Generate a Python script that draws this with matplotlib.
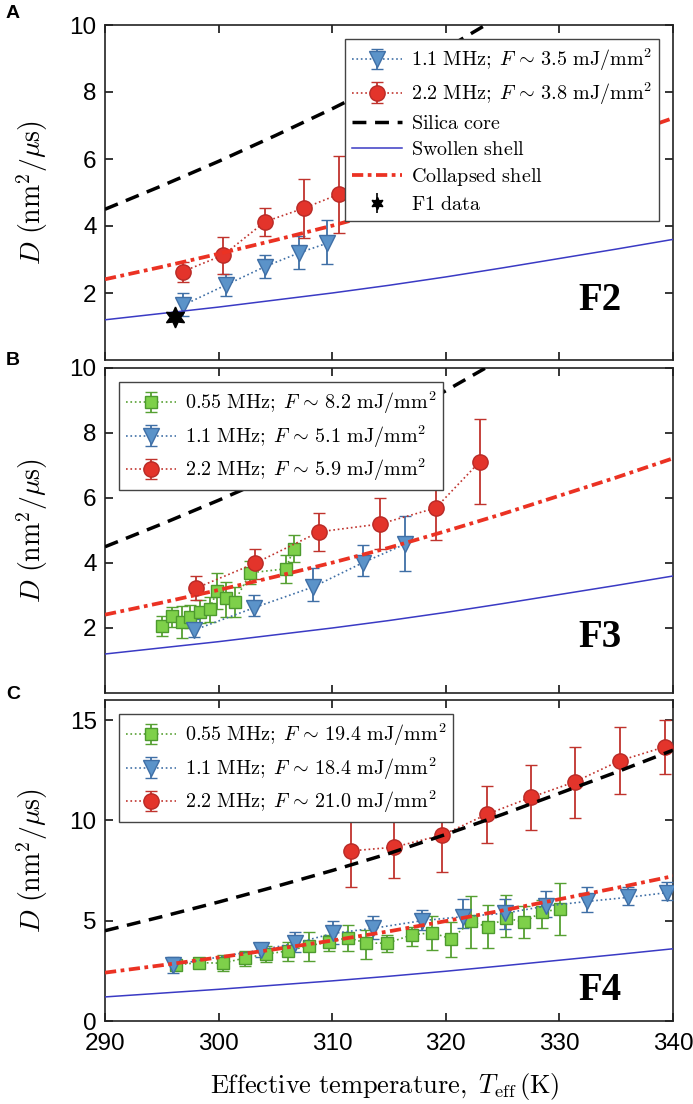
import matplotlib
matplotlib.use('Agg')
import matplotlib.pyplot as plt

plt.rcParams['font.family'] = ['Liberation Sans', 'DejaVu Sans']
plt.rcParams['mathtext.fontset'] = 'cm'

# model curves, every 5 K
t_model = [290, 295, 300, 305, 310, 315, 320, 325, 330, 335, 340]
d_silica = [4.5, 5.2, 5.93, 6.7, 7.5, 8.35, 9.3, 10.3, 11.35, 12.4, 13.5]
d_swollen = [1.2, 1.39, 1.58, 1.79, 2.0, 2.23, 2.48, 2.75, 3.03, 3.31, 3.6]
d_collapsed = [2.41, 2.78, 3.17, 3.58, 4.01, 4.47, 4.98, 5.51, 6.07, 6.63, 7.22]

# panel A (F2)
a_blue_t = [296.9, 300.65, 304.1, 307.1, 309.5]
a_blue_d = [1.64, 2.24, 2.79, 3.2, 3.48]
a_blue_lo = [1.3, 1.92, 2.44, 2.71, 2.87]
a_blue_hi = [2.01, 2.57, 3.13, 3.7, 4.18]
a_red_t = [296.84, 300.4, 304.1, 307.5, 310.6]
a_red_d = [2.64, 3.13, 4.13, 4.53, 4.95]
a_red_lo = [2.34, 2.57, 3.7, 3.65, 3.78]
a_red_hi = [2.92, 3.68, 4.53, 5.4, 6.1]
f1_t = [296.15]
f1_d = [1.29]
f1_lo = [1.15]
f1_hi = [1.43]

# panel B (F3)
b_green_t = [295.0, 295.9, 296.75, 297.5, 298.4, 299.2, 299.9, 300.65, 301.4, 302.8, 305.9, 306.6]
b_green_d = [2.07, 2.38, 2.19, 2.35, 2.5, 2.6, 3.15, 2.91, 2.81, 3.7, 3.82, 4.42]
b_green_lo = [1.75, 2.04, 1.7, 2.0, 2.15, 2.19, 2.6, 2.35, 2.33, 3.35, 3.38, 4.04]
b_green_hi = [2.37, 2.66, 2.68, 2.7, 2.85, 2.96, 3.7, 3.43, 3.26, 4.05, 4.25, 4.85]
b_blue_t = [297.8, 303.1, 308.3, 312.7, 316.4]
b_blue_d = [1.93, 2.62, 3.26, 4.01, 4.58]
b_blue_lo = [1.71, 2.38, 2.84, 3.61, 3.76]
b_blue_hi = [2.27, 3.02, 3.84, 4.55, 5.45]
b_red_t = [297.98, 303.2, 308.87, 314.2, 319.1, 323.0]
b_red_d = [3.22, 3.99, 4.96, 5.2, 5.69, 7.12]
b_red_lo = [2.86, 3.5, 4.38, 4.42, 4.71, 5.82]
b_red_hi = [3.61, 4.42, 5.55, 5.99, 6.68, 8.42]

# panel C (F4)
c_green_t = [296.25, 298.3, 300.35, 302.3, 304.2, 306.1, 308.0, 309.7, 311.4, 313.0,
             314.85, 317.0, 318.8, 320.5, 322.2, 323.7, 325.3, 326.9, 328.5, 330.05]
c_green_d = [2.8, 2.91, 2.88, 3.14, 3.34, 3.49, 3.76, 3.93, 4.16, 3.88,
             3.88, 4.29, 4.4, 4.09, 4.96, 4.69, 5.13, 4.93, 5.45, 5.57]
c_green_lo = [2.6, 2.78, 2.51, 2.74, 2.96, 3.0, 2.99, 3.5, 3.5, 3.07,
              3.46, 3.74, 3.54, 3.2, 3.65, 3.63, 4.18, 4.13, 4.62, 4.29]
c_green_hi = [3.0, 3.05, 3.29, 3.49, 3.74, 3.95, 4.45, 4.29, 4.79, 4.54,
              4.29, 4.7, 5.23, 4.95, 6.23, 5.78, 6.29, 5.71, 6.03, 6.86]
c_blue_t = [296.0, 303.7, 306.7, 310.1, 313.6, 317.9, 321.5, 325.2, 328.8, 332.45, 336.0, 339.5]
c_blue_d = [2.8, 3.54, 3.87, 4.37, 4.62, 5.0, 5.2, 5.37, 5.73, 5.96, 6.16, 6.4]
c_blue_lo = [2.38, 3.2, 3.46, 3.84, 4.09, 4.54, 4.62, 4.6, 5.17, 5.45, 5.8, 6.04]
c_blue_hi = [3.18, 3.84, 4.45, 5.0, 5.25, 5.53, 6.07, 6.08, 6.5, 6.66, 6.7, 6.95]
c_red_t = [311.65, 315.4, 319.7, 323.6, 327.5, 331.4, 335.3, 339.3]
c_red_d = [8.48, 8.66, 9.27, 10.3, 11.15, 11.93, 12.97, 13.67]
c_red_lo = [6.7, 7.11, 7.45, 8.86, 9.52, 10.1, 11.3, 12.31]
c_red_hi = [10.27, 10.22, 11.06, 11.71, 12.76, 13.67, 14.67, 15.0]

x_ticks = [290, 300, 310, 320, 330, 340]

BLUE = dict(mfc='#5b93c9', mec='#3f6fa6', ecolor='#3f6fa6', color='#3f6fa6', marker='v', ms=12)
RED = dict(mfc='#e3342b', mec='#b82a26', ecolor='#c0332d', color='#c0332d', marker='o', ms=11)
GREEN = dict(mfc='#7ed04a', mec='#4d9a2e', ecolor='#56a032', color='#56a032', marker='s', ms=8)


def lbl(mhz, f):
    return r'$\mathrm{%s\ MHz;}\;F\,\sim\,\mathrm{%s\ mJ/mm^2}$' % (mhz, f)


def series(ax, t, d, lo, hi, style, label):
    err = [[v - l for v, l in zip(d, lo)], [h - v for v, h in zip(d, hi)]]
    return ax.errorbar(t, d, yerr=err, ls=':', lw=1.2, elinewidth=1.3, capsize=4,
                       capthick=1.3, mew=1.0, label=label, zorder=3, **style)


def curves(ax):
    l1, = ax.plot(t_model, d_silica, color='black', lw=2.5, dashes=(4, 2.5), zorder=4)
    l2, = ax.plot(t_model, d_swollen, color='#3a3ac4', lw=1.1, zorder=4)
    l3, = ax.plot(t_model, d_collapsed, color='#eb3223', lw=2.7, dashes=(3, 1.2, 1, 1.2), zorder=4)
    return [l1, l2, l3]


def style_axes(ax, ymax, yticks, show_x):
    ax.set_xlim(290, 340)
    ax.set_ylim(0, ymax)
    ax.set_xticks(x_ticks)
    ax.set_yticks(yticks)
    ax.tick_params(direction='in', length=6, width=1.1, top=True, right=True,
                   labelsize=17.5, pad=6, labelbottom=show_x)
    ax.tick_params(axis='x', pad=9)
    for s in ax.spines.values():
        s.set_linewidth(1.2)
        s.set_color('#222222')
    ax.set_ylabel(r'$D\ (\mathrm{nm^2/\mu s})$', fontsize=20)
    ax.yaxis.set_label_coords(-0.097, 0.5)


fig = plt.figure(figsize=(6.93, 11.04), dpi=100)
L, W = 105 / 693, 568 / 693
axA = fig.add_axes([L, 1 - 360 / 1104, W, 335 / 1104])
axB = fig.add_axes([L, 1 - 693 / 1104, W, 325 / 1104])
axC = fig.add_axes([L, 1 - 1021 / 1104, W, 321 / 1104])

leg_kw = dict(fontsize=14.5, handlelength=2.5, fancybox=False, framealpha=1,
              edgecolor='#444444', borderpad=0.35, labelspacing=0.35,
              handletextpad=0.4, borderaxespad=0.7)

# panel A
hA1 = series(axA, a_blue_t, a_blue_d, a_blue_lo, a_blue_hi, BLUE, lbl('1.1', '3.5'))
hA2 = series(axA, a_red_t, a_red_d, a_red_lo, a_red_hi, RED, lbl('2.2', '3.8'))
model_lines = curves(axA)
axA.errorbar(f1_t, f1_d, yerr=[[d - l for d, l in zip(f1_d, f1_lo)],
                               [h - d for d, h in zip(f1_d, f1_hi)]],
             fmt='none', ecolor='black', elinewidth=1.2, capsize=3, zorder=5)
axA.plot(f1_t, f1_d, ls='none', marker=(6, 1, 0), ms=15, color='black', zorder=6)
f1_handle = axA.errorbar([], [], yerr=[], marker=(6, 1, 0), ms=9, color='black',
                         ls='none', capsize=3, elinewidth=1.2)
axA.legend([hA1, hA2] + model_lines + [f1_handle],
           [lbl('1.1', '3.5'), lbl('2.2', '3.8'), r'$\mathrm{Silica\ core}$',
            r'$\mathrm{Swollen\ shell}$', r'$\mathrm{Collapsed\ shell}$',
            r'$\mathrm{F1\ data}$'],
           loc='upper right', **leg_kw)
style_axes(axA, 10, [2, 4, 6, 8, 10], False)
axA.text(333.6, 1.49, 'F2', fontsize=28, fontweight='bold', family='Liberation Serif',
         ha='center', va='baseline', zorder=7)

# panel B
series(axB, b_green_t, b_green_d, b_green_lo, b_green_hi, GREEN, lbl('0.55', '8.2'))
series(axB, b_blue_t, b_blue_d, b_blue_lo, b_blue_hi, BLUE, lbl('1.1', '5.1'))
series(axB, b_red_t, b_red_d, b_red_lo, b_red_hi, RED, lbl('2.2', '5.9'))
hB, lB = axB.get_legend_handles_labels()
curves(axB)
axB.legend(hB, lB, loc='upper left', **leg_kw)
style_axes(axB, 10, [2, 4, 6, 8, 10], False)
axB.text(333.6, 1.42, 'F3', fontsize=28, fontweight='bold', family='Liberation Serif',
         ha='center', va='baseline', zorder=7)

# panel C
series(axC, c_green_t, c_green_d, c_green_lo, c_green_hi, GREEN, lbl('0.55', '19.4'))
series(axC, c_blue_t, c_blue_d, c_blue_lo, c_blue_hi, BLUE, lbl('1.1', '18.4'))
series(axC, c_red_t, c_red_d, c_red_lo, c_red_hi, RED, lbl('2.2', '21.0'))
hC, lC = axC.get_legend_handles_labels()
curves(axC)
axC.legend(hC, lC, loc='upper left', **leg_kw)
style_axes(axC, 16, [0, 5, 10, 15], True)
axC.text(333.6, 1.07, 'F4', fontsize=28, fontweight='bold', family='Liberation Serif',
         ha='center', va='baseline', zorder=7)
axC.set_xlabel(r'$\mathrm{Effective\ temperature,}\ T_{\mathrm{eff}}\,\mathrm{(K)}$', fontsize=19)
axC.xaxis.set_label_coords(0.493, -0.155)

for txt, yb in [('A', 18), ('B', 365), ('C', 699)]:
    fig.text(6 / 693, 1 - yb / 1104, txt, fontsize=14, fontweight='bold',
             ha='left', va='baseline')

fig.savefig('out.png', dpi=100)
